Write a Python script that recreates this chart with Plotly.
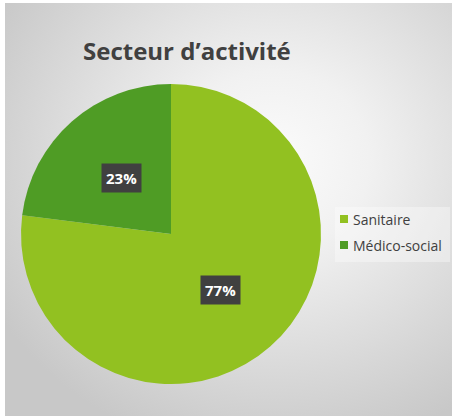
import base64, math
import plotly.graph_objects as go

categories = ["Sanitaire", "Médico-social"]
values = [77, 23]
colors = ["#92c121", "#4f9c25"]
title_text = "Secteur d’activité"

W, H = 455, 419
cx, cy, R = 171, 234, 150  # pie centre / radius in px
FONT = "Open Sans, Lato, sans-serif"

svg = ('<svg xmlns="http://www.w3.org/2000/svg" width="447" height="413" preserveAspectRatio="none">'
       '<defs><radialGradient id="g" cx="60%" cy="38%" r="72%">'
       '<stop offset="0" stop-color="#fbfbfb"/><stop offset="0.3" stop-color="#f1f1f1"/>'
       '<stop offset="1" stop-color="#c8c8c8"/></radialGradient></defs>'
       '<rect width="447" height="413" fill="url(#g)"/></svg>')
uri = "data:image/svg+xml;base64," + base64.b64encode(svg.encode()).decode()

fig = go.Figure()
fig.add_trace(go.Pie(
    labels=categories, values=values, sort=False, direction="clockwise", rotation=0,
    marker=dict(colors=colors, line=dict(width=0)), textinfo="none", hoverinfo="label+percent",
    showlegend=False,
    domain=dict(x=[(cx - R) / W, (cx + R) / W], y=[(H - cy - R) / H, (H - cy + R) / H]),
))

# percentage labels
total = sum(values)
cum = 0
annotations = []
shapes = []
for v in values:
    mid = (cum + v / 2) / total * 2 * math.pi
    cum += v
    px = cx + 0.5 * R * math.sin(mid)
    py = cy - 0.5 * R * math.cos(mid)
    annotations.append(dict(
        x=px / W, y=1 - py / H, xref="paper", yref="paper", showarrow=False,
        text="<b>%d%%</b>" % round(v / total * 100),
        font=dict(family=FONT, size=15, color="white"),
        bgcolor="#404040", borderpad=4, xanchor="center", yanchor="middle"))
annotations.append(dict(
    x=187 / W, y=1 - 50 / H, xref="paper", yref="paper", showarrow=False,
    text="<b>%s</b>" % title_text, xanchor="center", yanchor="middle",
    font=dict(family=FONT, size=24, color="#404040")))

# legend
lx, ly, step = 340, 219, 26
shapes.append(dict(type="rect", xref="paper", yref="paper", x0=335 / W, x1=450 / W,
                   y0=1 - 262 / H, y1=1 - 207 / H, fillcolor="rgba(255,255,255,0.35)",
                   line=dict(width=0), layer="below"))
for i, (c, col) in enumerate(zip(categories, colors)):
    yy = ly + i * step
    shapes.append(dict(type="rect", xref="paper", yref="paper", x0=lx / W, x1=(lx + 8) / W,
                       y0=1 - (yy + 4) / H, y1=1 - (yy - 4) / H, fillcolor=col, line=dict(width=0)))
    annotations.append(dict(x=(lx + 11) / W, y=1 - yy / H, xref="paper", yref="paper",
                            showarrow=False, text=c, xanchor="left", yanchor="middle",
                            font=dict(family=FONT, size=14, color="#404040")))

fig.update_layout(
    width=W, height=H, margin=dict(l=0, r=0, t=0, b=0),
    paper_bgcolor="white", plot_bgcolor="rgba(0,0,0,0)",
    images=[dict(source=uri, xref="paper", yref="paper", x=5 / W, y=1 - 3 / H,
                 sizex=447 / W, sizey=413 / H, sizing="stretch", layer="below",
                 xanchor="left", yanchor="top")],
    showlegend=False,
    annotations=annotations,
    shapes=shapes,
)
fig.write_html("out.html", config={"displayModeBar": False},
               post_script="document.body.style.margin='0';")
